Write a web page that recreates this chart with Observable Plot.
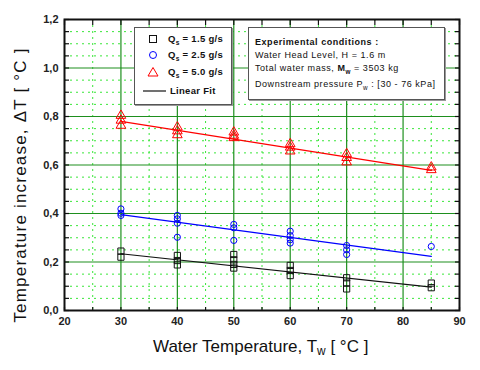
<!DOCTYPE html>
<html><head><meta charset="utf-8">
<script src="https://cdn.jsdelivr.net/npm/d3@7"></script>
<script src="https://cdn.jsdelivr.net/npm/@observablehq/plot@0.6"></script>
<style>
body{margin:0;background:#fff;font-family:Arial,"Liberation Sans",sans-serif;color:#111;}
#wrap{position:relative;width:480px;height:370px;overflow:hidden;}
#wrap svg.plot{position:absolute;left:0;top:0;}
.abs{position:absolute;white-space:nowrap;}
.box{position:absolute;background:#fff;border:1px solid #555;box-shadow:1px 1px 0 #999;}
.row{position:absolute;white-space:nowrap;line-height:12px;}
.leg{font-weight:bold;font-size:9.5px;letter-spacing:0.3px;}
.ann{font-size:9px;letter-spacing:0.55px;}
sub{font-size:70%;vertical-align:-3px;line-height:0;}
</style></head><body><div id="wrap"></div>
<script>
// ---- data ----
const xTickValues = [20, 30, 40, 50, 60, 70, 80, 90];
const yTickValues = [0, 0.2, 0.4, 0.6, 0.8, 1.0, 1.2];
const xGridMajor = [30, 40, 50, 60, 70, 80];
const yGridMajor = [0.2, 0.4, 0.6, 0.8, 1.0];
const xGridMinor = [25, 35, 45, 55, 65, 75, 85];
const yGridMinor = [0.05, 0.1, 0.15, 0.25, 0.3, 0.35, 0.45, 0.5, 0.55, 0.65, 0.7, 0.75, 0.85, 0.9, 0.95, 1.05, 1.1, 1.15];
const yTickAll = [0, 0.05, 0.1, 0.15, 0.2, 0.25, 0.3, 0.35, 0.4, 0.45, 0.5, 0.55, 0.6, 0.65, 0.7, 0.75, 0.8, 0.85, 0.9, 0.95, 1.0, 1.05, 1.1, 1.15, 1.2];
const xTickAll = [20, 25, 30, 35, 40, 45, 50, 55, 60, 65, 70, 75, 80, 85, 90];

// Qs = 1.5 g/s (black squares)
const tempQ15 = [30, 30, 40, 40, 40, 50, 50, 50, 50, 60, 60, 60, 70, 70, 70, 85, 85];
const dtQ15   = [0.245, 0.22, 0.227, 0.206, 0.188, 0.231, 0.209, 0.19, 0.175, 0.186, 0.165, 0.144, 0.135, 0.113, 0.089, 0.113, 0.094];
// Qs = 2.5 g/s (blue circles)
const tempQ25 = [30, 30, 30, 40, 40, 40, 40, 50, 50, 50, 60, 60, 60, 60, 70, 70, 70, 85];
const dtQ25   = [0.419, 0.401, 0.392, 0.392, 0.378, 0.36, 0.302, 0.355, 0.341, 0.289, 0.327, 0.309, 0.292, 0.278, 0.268, 0.25, 0.231, 0.264];
// Qs = 5.0 g/s (red triangles)
const tempQ50 = [30, 30, 30, 40, 40, 40, 50, 50, 50, 60, 60, 60, 70, 70, 70, 85, 85];
const dtQ50   = [0.804, 0.784, 0.763, 0.756, 0.74, 0.724, 0.735, 0.722, 0.712, 0.687, 0.673, 0.657, 0.646, 0.63, 0.612, 0.591, 0.58];

// Linear fit end points
const fitTemp = [30, 85];
const fitQ15 = [0.234, 0.096];
const fitQ25 = [0.395, 0.223];
const fitQ50 = [0.78, 0.578];

const pts = (xs, ys) => xs.map((x, i) => ({x, y: ys[i]}));
const s15 = pts(tempQ15, dtQ15), s25 = pts(tempQ25, dtQ25), s50 = pts(tempQ50, dtQ50);
const f15 = pts(fitTemp, fitQ15), f25 = pts(fitTemp, fitQ25), f50 = pts(fitTemp, fitQ50);

const fmtY = d => d.toFixed(1).replace(".", ",");
const majorGreen = "#1e8f1e";
const minorGreen = "#39e639";

const plot = Plot.plot({
  width: 480, height: 370,
  marginLeft: 64, marginRight: 21, marginTop: 19, marginBottom: 60,
  x: {domain: [20, 90]},
  y: {domain: [0, 1.2]},
  style: {fontFamily: "Arial, 'Liberation Sans', sans-serif", background: "transparent"},
  marks: [
    Plot.ruleY(yGridMinor, {stroke: minorGreen, strokeWidth: 1, strokeDasharray: "2,4"}),
    Plot.ruleX(xGridMinor, {stroke: minorGreen, strokeWidth: 1, strokeDasharray: "2,4"}),
    Plot.ruleY(yGridMajor, {stroke: majorGreen, strokeWidth: 1.2}),
    Plot.ruleX(xGridMajor, {stroke: majorGreen, strokeWidth: 1.2}),
    Plot.line(f15, {x: "x", y: "y", stroke: "#111", strokeWidth: 1.2}),
    Plot.line(f25, {x: "x", y: "y", stroke: "#0000ff", strokeWidth: 1.2}),
    Plot.line(f50, {x: "x", y: "y", stroke: "#ff0000", strokeWidth: 1.2}),
    Plot.dot(s15, {x: "x", y: "y", symbol: "square", stroke: "#111", fill: "none", r: 3.5, strokeWidth: 1}),
    Plot.dot(s25, {x: "x", y: "y", symbol: "circle", stroke: "#0000ff", fill: "none", r: 3.1, strokeWidth: 1}),
    Plot.dot(s50, {x: "x", y: "y", symbol: "triangle", stroke: "#ff0000", fill: "none", r: 3.6, strokeWidth: 1}),
    // inward ticks
    Plot.axisY(yTickAll, {anchor: "left", tickSize: -5, tickFormat: () => "", label: null, strokeWidth: 1.2}),
    Plot.axisY(yTickAll, {anchor: "right", tickSize: -5, tickFormat: () => "", label: null, strokeWidth: 1.2}),
    Plot.axisX(xTickAll, {anchor: "top", tickSize: -5, tickFormat: () => "", label: null, strokeWidth: 1.2}),
    Plot.axisX(xTickAll, {anchor: "bottom", tickSize: -3, tickFormat: () => "", label: null, strokeWidth: 1.2}),
    // labels
    Plot.axisY(yTickValues, {anchor: "left", tickSize: 0, tickPadding: 6, tickFormat: fmtY, label: null, fontSize: 11, fontWeight: "bold", fill: "#222"}),
    Plot.axisX(xTickValues, {anchor: "bottom", tickSize: 0, tickPadding: 7, label: null, fontSize: 11, fontWeight: "bold", fill: "#222"}),
    Plot.frame({stroke: "#111", strokeWidth: 2})
  ]
});
plot.classList.add("plot");
const wrap = document.getElementById("wrap");
wrap.appendChild(plot);

const html = `
<div class="abs" style="left:153px;top:337px;font-size:17px;">Water Temperature, T<sub>w</sub> [ °C ]</div>
<div class="abs" style="left:21px;top:185px;font-size:17px;transform:translate(-50%,-50%) rotate(-90deg);letter-spacing:1.2px;">Temperature increase, ΔT [ °C ]</div>
<div class="box" style="left:134px;top:27px;width:96px;height:76px;">
  <div class="row leg" style="left:0;top:5px;"><svg width="30" height="12" style="vertical-align:middle"><rect x="14.5" y="2.5" width="7" height="7" fill="none" stroke="#111"/></svg>&nbsp;Q<sub>s</sub> = 1.5 g/s</div>
  <div class="row leg" style="left:0;top:21px;"><svg width="30" height="12" style="vertical-align:middle"><circle cx="18" cy="6" r="3.5" fill="none" stroke="#0000ff"/></svg>&nbsp;Q<sub>s</sub> = 2.5 g/s</div>
  <div class="row leg" style="left:0;top:38px;"><svg width="30" height="12" style="vertical-align:middle"><path d="M18,1.5 L23,10 L13,10 Z" fill="none" stroke="#ff0000"/></svg>&nbsp;Q<sub>s</sub> = 5.0 g/s</div>
  <div class="row leg" style="left:0;top:57px;"><svg width="32" height="12" style="vertical-align:middle"><line x1="8" y1="6" x2="31" y2="6" stroke="#111" stroke-width="1.2"/></svg>&nbsp;Linear Fit</div>
</div>
<div class="box" style="left:248px;top:27px;width:195px;height:71px;">
  <div class="row ann" style="left:6px;top:8px;font-weight:bold;">Experimental conditions :</div>
  <div class="row ann" style="left:6px;top:21px;">Water Head Level, H = 1.6 m</div>
  <div class="row ann" style="left:6px;top:34px;">Total water mass, <b>M<sub>w</sub></b> = 3503 kg</div>
  <div class="row ann" style="left:6px;top:50px;">Downstream pressure P<sub>w</sub> : [30 - 76 kPa]</div>
</div>`;
wrap.insertAdjacentHTML("beforeend", html);
</script>
</body></html>
